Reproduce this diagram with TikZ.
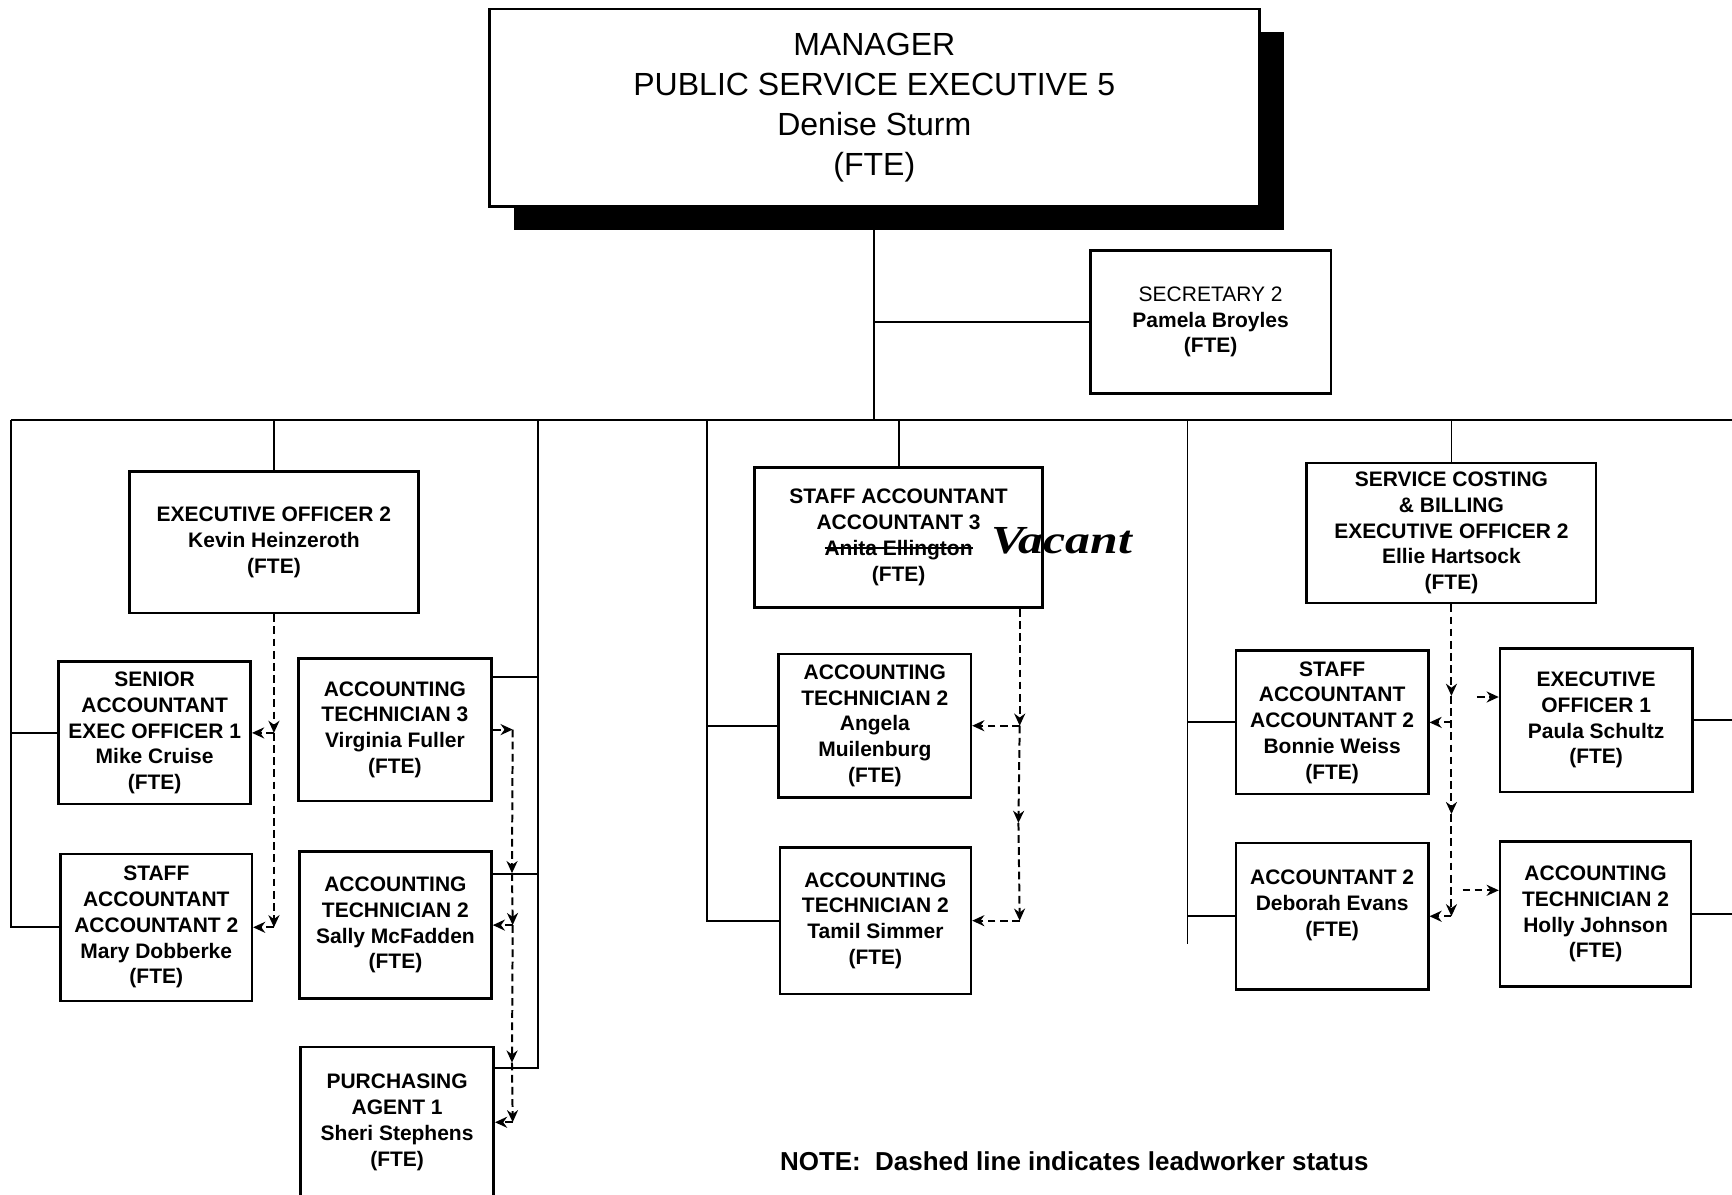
\documentclass[tikz,border=0pt]{standalone}
\usepackage{fontspec}
\setmainfont{Liberation Sans}
\newfontfamily\handfont{Liberation Serif}
\usetikzlibrary{arrows.meta,shadows}
\newcommand\strkout[1]{\leavevmode\setbox0\hbox{#1}\rlap{\raisebox{0.32em}{\rule{\wd0}{1.6pt}}}\box0}
\begin{document}
\begin{tikzpicture}[x=1pt,y=-1pt,
  pbox/.style={draw, line width=2.3pt, fill=white, align=center, inner sep=0pt,
    font=\fontsize{19}{23.3}\selectfont\bfseries},
  mgrbox/.style={draw, line width=2.3pt, fill=white, align=center, inner sep=0pt,
    font=\fontsize{29}{36}\selectfont,
    drop shadow={fill=black, opacity=1, shadow xshift=22pt, shadow yshift=-21pt}},
  conn/.style={line width=1.7pt},
  lead/.style={dashed, dash pattern=on 7pt off 4pt, line width=1.8pt,
    -{Stealth[length=11pt,width=10pt]}}]
\useasboundingbox (0,0) rectangle (1568,1081);
\fill[white] (0,0) rectangle (1568,1081);

% top
\node[mgrbox, minimum width=697pt, minimum height=179pt] (mgr) at (791.5,97.5)
  {MANAGER\\PUBLIC SERVICE EXECUTIVE 5\\Denise Sturm\\(FTE)};
\node[pbox, minimum width=218pt, minimum height=129pt] (sec) at (1096,291.5)
  {\mdseries SECRETARY 2\\Pamela Broyles\\(FTE)};

% left group
\node[pbox, minimum width=262pt, minimum height=128pt] (eo2) at (248,491)
  {EXECUTIVE OFFICER 2\\Kevin Heinzeroth\\(FTE)};
\node[pbox, minimum width=174pt, minimum height=129pt] (sen) at (140,663.5)
  {SENIOR\\ACCOUNTANT\\EXEC OFFICER 1\\Mike Cruise\\(FTE)};
\node[pbox, minimum width=175pt, minimum height=129pt] (at3) at (357.5,660.5)
  {ACCOUNTING\\TECHNICIAN 3\\Virginia Fuller\\(FTE)};
\node[pbox, minimum width=173pt, minimum height=133pt] (mary) at (141.5,839.5)
  {STAFF\\ACCOUNTANT\\ACCOUNTANT 2\\Mary Dobberke\\(FTE)};
\node[pbox, minimum width=174pt, minimum height=133pt] (sally) at (358,837.5)
  {ACCOUNTING\\TECHNICIAN 2\\Sally McFadden\\(FTE)};
\node[pbox, minimum width=175pt, minimum height=136pt] (pur) at (359.5,1016)
  {PURCHASING\\AGENT 1\\Sheri Stephens\\(FTE)};

% middle group
\node[pbox, minimum width=261pt, minimum height=127pt] (sa3) at (813.5,486.5)
  {STAFF ACCOUNTANT\\ACCOUNTANT 3\\\strkout{Anita Ellington}\\(FTE)};
\node[font=\handfont\fontsize{36}{36}\selectfont\bfseries\itshape] (vac) at (961,490)
  {\scalebox{1.25}[1]{Vacant}};
\node[pbox, minimum width=174pt, minimum height=130pt] (ang) at (792,657)
  {ACCOUNTING\\TECHNICIAN 2\\Angela\\Muilenburg\\(FTE)};
\node[pbox, minimum width=173pt, minimum height=133pt] (tam) at (792.5,833.5)
  {ACCOUNTING\\TECHNICIAN 2\\Tamil Simmer\\(FTE)};

% right group
\node[pbox, minimum width=262pt, minimum height=127pt] (scb) at (1314,482.5)
  {SERVICE COSTING\\\& BILLING\\EXECUTIVE OFFICER 2\\Ellie Hartsock\\(FTE)};
\node[pbox, minimum width=174pt, minimum height=130pt] (bon) at (1206,654)
  {STAFF\\ACCOUNTANT\\ACCOUNTANT 2\\Bonnie Weiss\\(FTE)};
\node[pbox, minimum width=174pt, minimum height=130pt] (pau) at (1445,652)
  {EXECUTIVE\\OFFICER 1\\Paula Schultz\\(FTE)};
\node[pbox, minimum width=174pt, minimum height=133pt] (deb) at (1206,829.5)
  {ACCOUNTANT 2\\Deborah Evans\\(FTE)\\~};
\node[pbox, minimum width=173pt, minimum height=131pt] (hol) at (1444.5,827.5)
  {ACCOUNTING\\TECHNICIAN 2\\Holly Johnson\\(FTE)};

% note
\node[anchor=base west, inner sep=0pt, font=\fontsize{23.5}{28}\selectfont\bfseries] (note) at (706,1060)
  {NOTE:\ \ Dashed line indicates leadworker status};

% solid connectors
\coordinate (busL) at (10,380);
\coordinate (busR) at (1570,380);
\coordinate (r1) at (487,380);
\coordinate (mL) at (640,380);
\coordinate (rL) at (1075,380);
\coordinate (pc) at ([yshift=-20pt]pur.north east);
\coordinate (ac) at ([yshift=-18pt]at3.north east);
\coordinate (sc) at ([yshift=-21pt]sally.north east);
\coordinate (dend) at ([yshift=-25pt]rL |- deb.west);
\draw[conn] (mgr.south) -- (mgr.south |- busL);
\draw[conn] (mgr.south |- sec.west) -- (sec.west);
\draw[conn] (busL) -- (busR);
\draw[conn] (busL) -- (busL |- mary.west) -- (mary.west);
\draw[conn] (busL |- sen.west) -- (sen.west);
\draw[conn] (eo2.north |- busL) -- (eo2.north);
\draw[conn] (r1) -- (r1 |- pc) -- (pc);
\draw[conn] (ac) -- (r1 |- ac);
\draw[conn] (sc) -- (r1 |- sc);
\draw[conn] (mL) -- (mL |- tam.west) -- (tam.west);
\draw[conn] (mL |- ang.west) -- (ang.west);
\draw[conn] (sa3.north |- mL) -- (sa3.north);
\draw[conn] (rL) -- (dend);
\draw[conn] (rL |- bon.west) -- (bon.west);
\draw[conn] (rL |- deb.west) -- (deb.west);
\draw[conn] (scb.north |- rL) -- (scb.north);
\draw[conn] (pau.east) -- (pau.east -| busR);
\draw[conn] (hol.east) -- (hol.east -| busR);

% dashed: left group
\coordinate (e1) at (eo2.south |- sen.east);
\coordinate (e2) at (eo2.south |- mary.east);
\draw[lead] (eo2.south) -- (e1);
\draw[lead] (e1) -- (sen.east);
\draw[lead] (e1) -- (e2);
\draw[lead] (e2) -- (mary.east);

% dashed: Virginia Fuller
\coordinate (v0) at ([xshift=18pt]at3.east);
\coordinate (v1) at (463.5,790.5);
\coordinate (v2) at (v0 |- sally.east);
\coordinate (v3) at (463.5,962);
\coordinate (v4) at (v0 |- pur.east);
\draw[lead] (at3.east) -- (v0);
\draw[lead] (v0) -- (v1);
\draw[lead] (v1) -- (v2);
\draw[lead] (v2) -- (sally.east);
\draw[lead] (v2) -- (v3);
\draw[lead] (v3) -- (v4);
\draw[lead] (v4) -- (pur.east);

% dashed: middle group
\coordinate (m0) at ([xshift=-22pt]sa3.south east);
\coordinate (m1) at (m0 |- ang.east);
\coordinate (m2) at (922,745);
\coordinate (m3) at (m0 |- tam.east);
\draw[lead] (m0) -- (m1);
\draw[lead] (m1) -- (ang.east);
\draw[lead] (m1) -- (m2);
\draw[lead] (m2) -- (m3);
\draw[lead] (m3) -- (tam.east);

% dashed: right group
\coordinate (sA) at (1314,630);
\coordinate (s1) at (scb.south |- bon.east);
\coordinate (s2) at (1314,737);
\coordinate (s3) at (scb.south |- deb.east);
\coordinate (p0) at (1337,631);
\coordinate (h0) at (1324,806);
\draw[lead] (scb.south) -- (sA);
\draw[lead] (sA) -- (s2);
\draw[lead] (s1) -- (bon.east);
\draw[lead] (s2) -- (s3);
\draw[lead] (s3) -- (deb.east);
\draw[lead] (p0) -- (p0 -| pau.west);
\draw[lead] (h0) -- (h0 -| hol.west);
\end{tikzpicture}
\end{document}
